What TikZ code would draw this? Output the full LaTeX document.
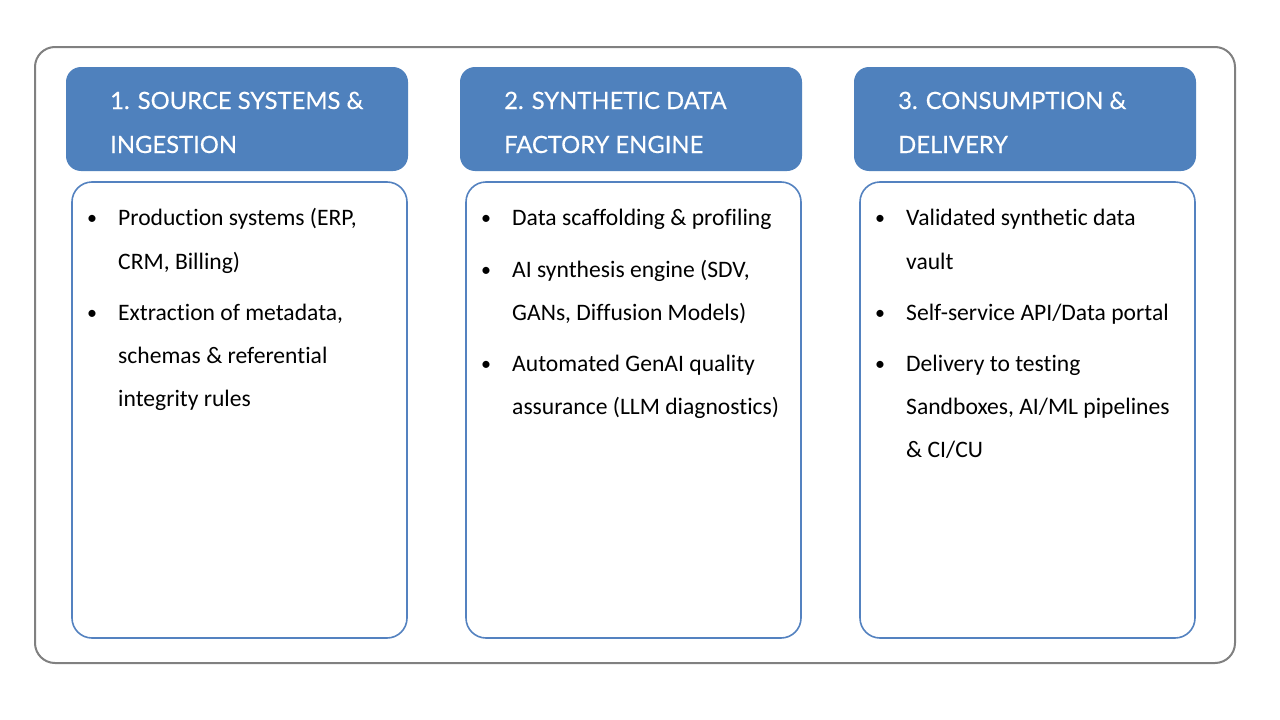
\documentclass[tikz,border=0pt]{standalone}
\usepackage{fontspec}
\setmainfont[Ligatures={NoCommon,TeX}]{Carlito}
\newfontfamily\hdrfont[FakeBold=0.4]{Lato}
\definecolor{hdrblue}{RGB}{79,129,189}
\definecolor{boxblue}{RGB}{84,130,192}
\definecolor{outergray}{RGB}{128,128,128}
\begin{document}
\begin{tikzpicture}[x=1pt,y=-1pt,
  outerbox/.style={draw=outergray,line width=2pt,rounded corners=20pt},
  hdrbox/.style={fill=hdrblue,draw=none,rounded corners=15pt},
  bodybox/.style={draw=boxblue,line width=1.6pt,fill=white,rounded corners=20pt},
  hdrtext/.style={anchor=base west,inner sep=0pt,text=white,font=\hdrfont\fontsize{23.8}{28}\selectfont},
  bodytext/.style={anchor=base west,inner sep=0pt,font=\fontsize{23.6}{28}\selectfont},
  bullet/.style={anchor=base,inner sep=0pt,font=\fontsize{20}{24}\selectfont}]
\useasboundingbox (0,0) rectangle (1280,720);
\fill[white] (0,0) rectangle (1280,720);
\draw[outerbox] (35,47) rectangle (1235,663);
% headers and body boxes
\foreach \x/\n in {66/1,460/2,854/3}{
  \fill[hdrbox] (\x,67) rectangle ++(342,104);
  \draw[bodybox] (\x+6,182) rectangle ++(335,456);
}
\node[hdrtext] (h1a) at (110,109) {1. SOURCE SYSTEMS \&};
\node[hdrtext] (h1b) at (110,153) {INGESTION};
\node[hdrtext] (h2a) at (504,109) {2. SYNTHETIC DATA};
\node[hdrtext] (h2b) at (504,153) {FACTORY ENGINE};
\node[hdrtext] (h3a) at (898,109) {3. CONSUMPTION \&};
\node[hdrtext] (h3b) at (898,153) {DELIVERY};
% column 1
\node[bullet] (c1b1) at (92,224) {•};
\node[bodytext] (c1l1) at (118,225) {Production systems (ERP,};
\node[bodytext] (c1l2) at (118,269) {CRM, Billing)};
\node[bullet] (c1b2) at (92,319) {•};
\node[bodytext] (c1l3) at (118,320) {Extraction of metadata,};
\node[bodytext] (c1l4) at (118,363) {schemas \& referential};
\node[bodytext] (c1l5) at (118,406) {integrity rules};
% column 2
\node[bullet] (c2b1) at (486,224) {•};
\node[bodytext] (c2l1) at (512,225) {Data scaffolding \& profiling};
\node[bullet] (c2b2) at (486,276) {•};
\node[bodytext] (c2l2) at (512,277) {AI synthesis engine (SDV,};
\node[bodytext] (c2l3) at (512,320) {GANs, Diffusion Models)};
\node[bullet] (c2b3) at (486,370) {•};
\node[bodytext] (c2l4) at (512,371) {Automated GenAI quality};
\node[bodytext] (c2l5) at (512,414) {assurance (LLM diagnostics)};
% column 3
\node[bullet] (c3b1) at (880,224) {•};
\node[bodytext] (c3l1) at (906,225) {Validated synthetic data};
\node[bodytext] (c3l2) at (906,269) {vault};
\node[bullet] (c3b2) at (880,319) {•};
\node[bodytext] (c3l3) at (906,320) {Self-service API/Data portal};
\node[bullet] (c3b3) at (880,370) {•};
\node[bodytext] (c3l4) at (906,371) {Delivery to testing};
\node[bodytext] (c3l5) at (906,414) {Sandboxes, AI/ML pipelines};
\node[bodytext] (c3l6) at (906,457) {\& CI/CU};
\end{tikzpicture}
\end{document}
